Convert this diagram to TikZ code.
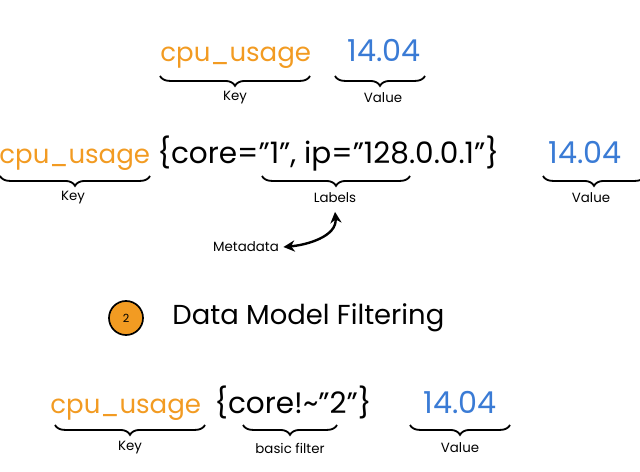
\documentclass[tikz,border=0pt]{standalone}
\usepackage{fontspec}
\setmainfont{Poppins}
\usetikzlibrary{positioning,decorations.pathreplacing,arrows.meta}
\definecolor{keyorange}{HTML}{F29B22}
\definecolor{valueblue}{HTML}{3A7BD5}
\newcommand{\qq}{\char34 }

\begin{document}
\begin{tikzpicture}
    [
        x=0.025cm,
        y=-0.025cm,
        semithick,
        metric/.style={inner sep=0pt, anchor=base west},
        metric key/.style={metric, text=keyorange, font=\fontsize{18.5}{18.5}\selectfont},
        metric value/.style={metric, text=valueblue, font=\fontsize{21.5}{21.5}\selectfont},
        metric labels/.style={metric, text=black, font=\fontsize{21}{21}\selectfont},
        part brace/.style={decorate, decoration={brace, mirror, amplitude=7pt}, line width=1.3pt},
        part name/.style={inner sep=0pt, font=\fontsize{9.5}{9.5}\selectfont},
        step badge/.style={circle, draw=black, fill=keyorange, line width=1.2pt,
                           minimum size=0.85cm, inner sep=0pt, font=\fontsize{8}{8}\selectfont},
        step title/.style={inner sep=0pt, anchor=west, font=\fontsize{19.5}{19.5}\selectfont}
    ]
    \useasboundingbox (0,0) rectangle (640,472);

    % plain sample
    \node (key a)   [metric key]   at (160,62) {cpu\_usage};
    \node (value a) [metric value] at (347,62) {14.04};

    \draw [part brace] (160,76) -- (310,76);
    \draw [part brace] (335,76) -- (425,76);
    \node (key a name)   [part name] at (235,98) {Key};
    \node (value a name) [part name] at (383,98) {Value};

    % sample with labels
    \node (key b)    [metric key]    at (-1,164)  {cpu\_usage};
    \node (labels b) [metric labels] at (157,164) {\{core=\qq1\qq, ip=\qq128.0.0.1\qq\}};
    \node (value b)  [metric value]  at (548,164) {14.04};

    \draw [part brace] (0,176) -- (150,176);
    \draw [part brace] (262,176) -- (410,176);
    \draw [part brace] (543,176) -- (645,176);
    \node (key b name)    [part name] at (73,198)  {Key};
    \node (labels b name) [part name] at (335,198) {Labels};
    \node (value b name)  [part name] at (591,198) {Value};

    \node (meta) [part name] at (246,247) {Metadata};
    \draw [{Stealth[length=8pt,width=8pt]}-{Stealth[length=8pt,width=8pt]}, line width=1.7pt]
          ([xshift=3pt]meta.east) to [out=5, in=-85] ([yshift=-6pt]labels b name.south);

    % section heading
    \node (step two)  [step badge] at (126,318) {2};
    \node (step text) [step title] at (172,318) {Data Model Filtering};

    % filtered sample
    \node (key c)    [metric key]    at (50,414)  {cpu\_usage};
    \node (filter c) [metric labels] at (214,414) {\{core!\textasciitilde\qq2\qq\}};
    \node (value c)  [metric value]  at (423,414) {14.04};

    \draw [part brace] (55,425) -- (205,425);
    \draw [part brace] (243,425) -- (337,425);
    \draw [part brace] (410,425) -- (510,425);
    \node (key c name)    [part name] at (130,448) {Key};
    \node (filter c name) [part name] at (290,448) {basic filter};
    \node (value c name)  [part name] at (460,448) {Value};
\end{tikzpicture}
\end{document}
